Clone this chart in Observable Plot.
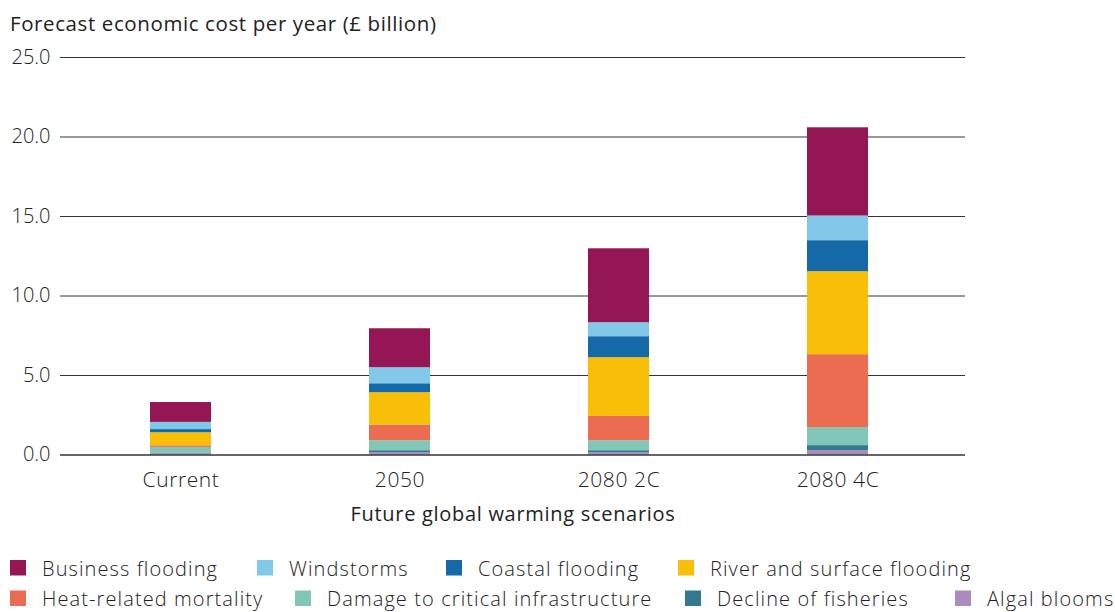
<!DOCTYPE html>
<html><head><meta charset="utf-8">
<script src="https://cdn.jsdelivr.net/npm/d3@7"></script>
<script src="https://cdn.jsdelivr.net/npm/@observablehq/plot@0.6"></script>
<style>
body{margin:0;background:#fff;font-family:"Open Sans", sans-serif;font-weight:300;color:#222;}
#wrap{position:relative;width:1115px;height:612px;overflow:hidden;background:#fff;}
#chart{position:absolute;left:0;top:25px;}
#legend{position:absolute;left:0;top:0;}
#titlesvg{position:absolute;left:0;top:0;}
</style></head>
<body>
<div id="wrap">
  <div id="chart"></div>
  <svg id="titlesvg" width="1115" height="40"><text x="10" y="30.5" font-family="Open Sans, sans-serif" font-weight="400" font-size="20.5" letter-spacing="0.6" fill="#222">Forecast economic cost per year (£ billion)</text></svg>
  <svg id="legend" width="1115" height="612" style="pointer-events:none"></svg>
</div>
<script>
const scenarios = ["Current", "2050", "2080 2C", "2080 4C"];
const categories = ["Business flooding", "Windstorms", "Coastal flooding", "River and surface flooding",
  "Heat-related mortality", "Damage to critical infrastructure", "Decline of fisheries", "Algal blooms"];
const colors = ["#951655", "#82C8E8", "#1669A9", "#F8BE08", "#EC6C52", "#81C6B7", "#337A8E", "#AC8AC0"];
const yTicks = [0, 5, 10, 15, 20, 25];

const businessFlooding = [1.25, 2.45, 4.65, 5.55];
const windstorms = [0.45, 1.01, 0.88, 1.55];
const coastalFlooding = [0.20, 0.56, 1.32, 1.95];
const riverSurfaceFlooding = [0.82, 2.04, 3.69, 5.22];
const heatMortality = [0.10, 0.98, 1.53, 4.59];
const infrastructure = [0.38, 0.63, 0.63, 1.13];
const fisheries = [0.02, 0.13, 0.13, 0.32];
const algalBlooms = [0.08, 0.14, 0.14, 0.27];

const seriesValues = [businessFlooding, windstorms, coastalFlooding, riverSurfaceFlooding,
  heatMortality, infrastructure, fisheries, algalBlooms];

// stacking bottom-to-top
const stackOrder = categories.slice().reverse();
const table = [];
stackOrder.forEach(cat => {
  const vals = seriesValues[categories.indexOf(cat)];
  scenarios.forEach((s, i) => table.push({scenario: s, category: cat, value: vals[i]}));
});

const chart = Plot.plot({
  width: 1115,
  height: 515,
  marginLeft: 60,
  marginRight: 150,
  marginTop: 32,
  marginBottom: 85.5,
  style: {fontFamily: "'Open Sans', sans-serif", fontWeight: 300, fontSize: "20px", color: "#222", background: "transparent", overflow: "visible"},
  x: {domain: scenarios, range: [60, 958], paddingInner: 0.72, paddingOuter: 0.41},
  y: {domain: [0, 25]},
  color: {domain: categories, range: colors},
  marks: [
    Plot.ruleY(yTicks.filter(d => d > 0), {stroke: "#333", strokeWidth: 1}),
    Plot.barY(table, {x: "scenario", y: "value", fill: "category", order: stackOrder}),
    Plot.ruleY([0], {stroke: "#333", strokeWidth: 1.3}),
    Plot.axisY({ticks: yTicks, tickFormat: d => d.toFixed(1), tickSize: 0, tickPadding: 10, label: null, fontSize: 20}),
    Plot.axisX({tickSize: 0, tickPadding: 17, fontSize: 21, label: null}),
    Plot.axisX({tickSize: 0, ticks: [], label: "Future global warming scenarios", fontSize: 20, fontWeight: 400,
      labelAnchor: "center", labelArrow: "none", labelOffset: 66})
  ]
});
document.getElementById("chart").appendChild(chart);
d3.select(chart).selectAll('g[aria-label="x-axis tick label"] text').style("letter-spacing", "0.6px");
d3.select(chart).selectAll('g[aria-label="x-axis label"] text').style("letter-spacing", "0.7px");

// legend (two rows)
const legendPos = [
  [10, 575.5], [257, 575.5], [446, 575.5], [678, 575.5],
  [10, 606], [295, 606], [685, 606], [955, 606]
];
const lg = d3.select("#legend");
categories.forEach((c, i) => {
  const [lx, ly] = legendPos[i];
  lg.append("rect").attr("x", lx).attr("y", ly - 15.5).attr("width", 16).attr("height", 15.5).attr("fill", colors[i]);
  lg.append("text").attr("x", lx + 32).attr("y", ly)
    .attr("font-family", "Open Sans, sans-serif").attr("font-weight", 300).attr("font-size", 20)
    .attr("letter-spacing", 1.1).attr("fill", "#222").text(c);
});
</script>
</body></html>
